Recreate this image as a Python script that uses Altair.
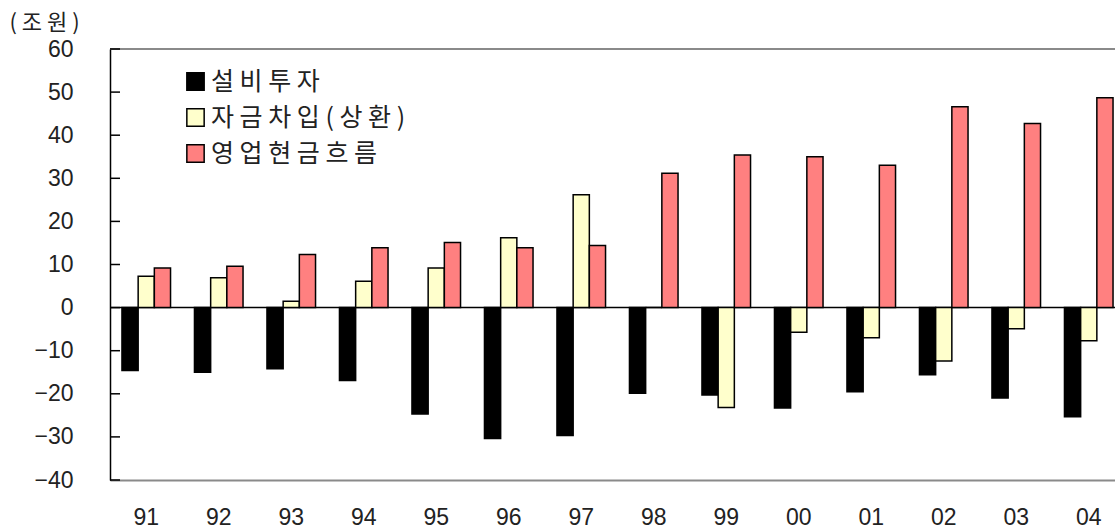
import altair as alt
import pandas as pd

years = ["91", "92", "93", "94", "95", "96", "97", "98", "99", "00", "01", "02", "03", "04"]
series = ["설비투자", "자금차입(상환)", "영업현금흐름"]
capex = [-14.6, -15.0, -14.2, -16.9, -24.7, -30.4, -29.7, -19.9, -20.3, -23.3, -19.5, -15.6, -21.0, -25.3]
borrow = [7.3, 6.9, 1.5, 6.1, 9.2, 16.2, 26.2, 0.0, -23.2, -5.7, -7.0, -12.4, -4.9, -7.7]
opcf = [9.2, 9.6, 12.3, 13.9, 15.1, 13.9, 14.4, 31.2, 35.4, 35.0, 33.0, 46.6, 42.7, 48.7]
colors = ["#000000", "#FFFFCC", "#FF8080"]
y_ticks = [-40, -30, -20, -10, 0, 10, 20, 30, 40, 50, 60]

rows = []
for i, y in enumerate(years):
    for s, vals in zip(series, [capex, borrow, opcf]):
        rows.append({"year": y, "series": s, "value": vals[i]})
df = pd.DataFrame(rows)

W = 1005
RANGE_W = 1015
H = 431

yscale = alt.Scale(domain=[-40, 60], nice=False, zero=False)
yaxis = alt.Axis(title="( 조 원 )", titleAngle=0, titleAlign="left",
                 titleBaseline="middle", titleX=-101, titleY=-27,
                 titleFontSize=22, titleFontWeight="normal",
                 titleFont="Noto Sans CJK KR", titleColor="#222222",
                 values=y_ticks, ticks=False, labelFontSize=23,
                 labelPadding=37, domainColor="black", domainWidth=1.5,
                 grid=False, labelColor="#222222")

bars = alt.Chart(df).mark_bar(stroke="black", strokeWidth=1.5).encode(
    x=alt.X("year:N", sort=years,
            scale=alt.Scale(range=[0, RANGE_W], paddingInner=0.33, paddingOuter=0.165),
            axis=alt.Axis(title=None, labelAngle=0, labelFontSize=23, labelPadding=26,
                          ticks=False, domainColor="#8a8a8a", domainWidth=2,
                          labelColor="#222222")),
    xOffset=alt.XOffset("series:N", sort=series,
                        scale=alt.Scale(paddingInner=0, paddingOuter=0)),
    y=alt.Y("value:Q", scale=yscale, axis=yaxis),
    color=alt.Color("series:N", sort=series,
                    scale=alt.Scale(domain=series, range=colors),
                    legend=alt.Legend(title=None, orient="none", legendX=73, legendY=20,
                                      symbolType="square", symbolSize=300,
                                      symbolStrokeColor="black", symbolStrokeWidth=1.5,
                                      symbolOpacity=1,
                                      labelFont="Noto Sans CJK KR", labelFontSize=25,
                                      labelColor="#222222", labelOffset=3,
                                      labelLimit=500,
                                      rowPadding=10, padding=0,
                                      labelExpr="join(split(datum.label, ''), ' ')")),
)

tick_df = pd.DataFrame({"v": y_ticks})
ticks = alt.Chart(tick_df).mark_rule(color="black", strokeWidth=1.5).encode(
    x=alt.value(0), x2=alt.value(10),
    y=alt.Y("v:Q", scale=yscale, axis=yaxis),
)

zero = alt.Chart(pd.DataFrame({"v": [0]})).mark_rule(color="black", strokeWidth=1.5).encode(
    x=alt.value(0), x2=alt.value(RANGE_W),
    y=alt.Y("v:Q", scale=yscale, axis=yaxis),
)

top = alt.Chart(pd.DataFrame({"v": [60]})).mark_rule(color="#8a8a8a", strokeWidth=2).encode(
    x=alt.value(0), x2=alt.value(RANGE_W),
    y=alt.Y("v:Q", scale=yscale, axis=yaxis),
)

chart = alt.layer(zero, top, bars, ticks).properties(
    width=W, height=H,
    autosize=alt.AutoSizeParams(type="none"),
    padding={"left": 110, "top": 49, "right": 0, "bottom": 50},
).configure(font="Liberation Sans").configure_view(stroke=None)

chart.save("out.html", embed_options={"renderer": "svg", "actions": False})
